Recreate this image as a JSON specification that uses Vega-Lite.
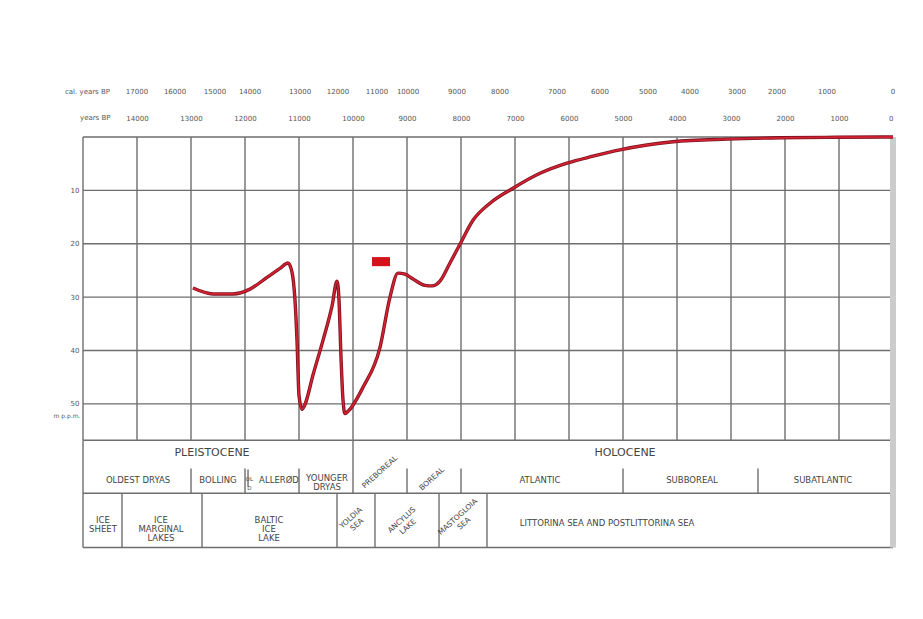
{
  "$schema": "https://vega.github.io/schema/vega-lite/v6.json",
  "width": 810,
  "height": 411,
  "autosize": {"type": "none"},
  "padding": {"left": 83, "top": 137, "right": 30, "bottom": 71},
  "background": "white",
  "config": {
    "view": {"stroke": null},
    "font": "DejaVu Sans",
    "text": {"font": "DejaVu Sans", "lineBreak": "\n"}
  },
  "datasets": {
    "curve": [
      {"yr": 12963, "d": 28.3}, {"yr": 12593, "d": 29.4}, {"yr": 12222, "d": 29.4},
      {"yr": 11907, "d": 28.5}, {"yr": 11593, "d": 26.3}, {"yr": 11352, "d": 24.6},
      {"yr": 11204, "d": 23.6}, {"yr": 11130, "d": 25.3}, {"yr": 11074, "d": 30.6},
      {"yr": 11037, "d": 38.1}, {"yr": 11000, "d": 48.4}, {"yr": 10944, "d": 51.0},
      {"yr": 10889, "d": 50.1}, {"yr": 10741, "d": 44.6}, {"yr": 10556, "d": 38.1},
      {"yr": 10389, "d": 31.7}, {"yr": 10296, "d": 27.0}, {"yr": 10259, "d": 30.6},
      {"yr": 10222, "d": 41.3}, {"yr": 10185, "d": 49.3}, {"yr": 10148, "d": 51.8},
      {"yr": 10074, "d": 51.2}, {"yr": 9815, "d": 46.9}, {"yr": 9500, "d": 39.4},
      {"yr": 9315, "d": 30.0}, {"yr": 9167, "d": 25.5}, {"yr": 9037, "d": 25.7},
      {"yr": 8889, "d": 26.6}, {"yr": 8667, "d": 27.8}, {"yr": 8537, "d": 27.9},
      {"yr": 8389, "d": 27.0}, {"yr": 8204, "d": 23.6}, {"yr": 8019, "d": 20.1},
      {"yr": 7778, "d": 15.6}, {"yr": 7463, "d": 12.4}, {"yr": 7037, "d": 9.6},
      {"yr": 6537, "d": 6.8}, {"yr": 6037, "d": 4.9}, {"yr": 5556, "d": 3.6},
      {"yr": 5056, "d": 2.4}, {"yr": 4556, "d": 1.5}, {"yr": 4074, "d": 0.9},
      {"yr": 3074, "d": 0.4}, {"yr": 2093, "d": 0.15}, {"yr": 1037, "d": 0.05},
      {"yr": 0, "d": 0}
    ],
    "grid_v": [
      {"yr": 15000}, {"yr": 14000}, {"yr": 13000}, {"yr": 12000}, {"yr": 11000},
      {"yr": 10000}, {"yr": 9000}, {"yr": 8000}, {"yr": 7000}, {"yr": 6000},
      {"yr": 5000}, {"yr": 4000}, {"yr": 3000}, {"yr": 2000}, {"yr": 1000}
    ],
    "grid_h": [
      {"d": 0}, {"d": 10}, {"d": 20}, {"d": 30}, {"d": 40}, {"d": 50}
    ],
    "table_lines": [
      {"yr": 15000, "yr2": 0, "d": 56.8, "d2": 56.8},
      {"yr": 15000, "yr2": 0, "d": 66.75, "d2": 66.75},
      {"yr": 15000, "yr2": 0, "d": 76.9, "d2": 76.9},
      {"yr": 15000, "yr2": 15000, "d": 56.8, "d2": 76.9},
      {"yr": 10000, "yr2": 10000, "d": 56.8, "d2": 66.75},
      {"yr": 13000, "yr2": 13000, "d": 62.1, "d2": 66.75},
      {"yr": 12000, "yr2": 12000, "d": 62.1, "d2": 66.75},
      {"yr": 11944, "yr2": 11944, "d": 62.3, "d2": 65.5},
      {"yr": 11000, "yr2": 11000, "d": 62.1, "d2": 66.75},
      {"yr": 9000, "yr2": 9000, "d": 62.1, "d2": 66.75},
      {"yr": 8000, "yr2": 8000, "d": 62.1, "d2": 66.75},
      {"yr": 5000, "yr2": 5000, "d": 62.1, "d2": 66.75},
      {"yr": 2500, "yr2": 2500, "d": 62.1, "d2": 66.75},
      {"yr": 14278, "yr2": 14278, "d": 66.75, "d2": 76.9},
      {"yr": 12796, "yr2": 12796, "d": 66.75, "d2": 76.9},
      {"yr": 10296, "yr2": 10296, "d": 66.75, "d2": 76.9},
      {"yr": 9593, "yr2": 9593, "d": 66.75, "d2": 76.9},
      {"yr": 8407, "yr2": 8407, "d": 66.75, "d2": 76.9},
      {"yr": 7519, "yr2": 7519, "d": 66.75, "d2": 76.9}
    ],
    "edge": [{"yr": 0, "d": 0, "d2": 76.9}],
    "marker": [{"yr": 9648, "yr2": 9315, "d": 22.5, "d2": 24.2}],
    "cal": [
      {"yr": 14000, "label": "17000"}, {"yr": 13296, "label": "16000"},
      {"yr": 12556, "label": "15000"}, {"yr": 11907, "label": "14000"},
      {"yr": 10981, "label": "13000"}, {"yr": 10278, "label": "12000"},
      {"yr": 9556, "label": "11000"}, {"yr": 8981, "label": "10000"},
      {"yr": 8074, "label": "9000"}, {"yr": 7278, "label": "8000"},
      {"yr": 6222, "label": "7000"}, {"yr": 5426, "label": "6000"},
      {"yr": 4537, "label": "5000"}, {"yr": 3759, "label": "4000"},
      {"yr": 2889, "label": "3000"}, {"yr": 2148, "label": "2000"},
      {"yr": 1222, "label": "1000"}, {"yr": 0, "label": "0"}
    ],
    "cal_title": [{"yr": 14500, "label": "cal. years BP"}],
    "epochs": [
      {"yr": 12611, "d": 59.25, "label": "PLEISTOCENE"},
      {"yr": 4963, "d": 59.25, "label": "HOLOCENE"}
    ],
    "stages": [
      {"yr": 13981, "d": 64.3, "label": "OLDEST DRYAS"},
      {"yr": 12500, "d": 64.3, "label": "BOLLING"},
      {"yr": 11370, "d": 64.3, "label": "ALLERØD"},
      {"yr": 10481, "d": 63.9, "label": "YOUNGER\nDRYAS"},
      {"yr": 6537, "d": 64.3, "label": "ATLANTIC"},
      {"yr": 3722, "d": 64.3, "label": "SUBBOREAL"},
      {"yr": 1296, "d": 64.3, "label": "SUBATLANTIC"},
      {"yr": 14630, "d": 71.8, "label": "ICE\nSHEET"},
      {"yr": 13556, "d": 71.8, "label": "ICE\nMARGINAL\nLAKES"},
      {"yr": 11556, "d": 71.8, "label": "BALTIC\nICE\nLAKE"},
      {"yr": 5296, "d": 72.4, "label": "LITTORINA SEA AND POSTLITTORINA SEA"}
    ],
    "stages_small": [
      {"yr": 11920, "d": 64.0, "label": "OL\nD"}
    ],
    "stages_rot": [
      {"yr": 9500, "d": 62.8, "label": "PREBOREAL"},
      {"yr": 8537, "d": 64.1, "label": "BOREAL"},
      {"yr": 10037, "d": 71.4, "label": "YOLDIA\nSEA"},
      {"yr": 9093, "d": 71.8, "label": "ANCYLUS\nLAKE"},
      {"yr": 8056, "d": 71.2, "label": "MASTOGLOIA\nSEA"}
    ]
  },
  "layer": [
    {
      "data": {"name": "grid_v"},
      "mark": {"type": "rule", "stroke": "#6e6e6e", "strokeWidth": 1.4},
      "encoding": {
        "x": {
          "field": "yr", "type": "quantitative",
          "scale": {"domain": [0, 15000], "reverse": true, "nice": false, "zero": false},
          "axis": {
            "orient": "top",
            "values": [14000, 13000, 12000, 11000, 10000, 9000, 8000, 7000, 6000, 5000, 4000, 3000, 2000, 1000, 0],
            "format": "d",
            "labelFont": "DejaVu Sans", "labelFontSize": 7, "labelColor": "#555555",
            "tickSize": 0, "domain": false, "grid": false, "labelPadding": 16,
            "title": "years BP", "titleFont": "DejaVu Sans", "titleFontSize": 7,
            "titleFontWeight": "normal", "titleColor": "#555555",
            "titleAlign": "right", "titleBaseline": "middle", "titleAngle": 0,
            "titleX": 27, "titleY": -20
          }
        },
        "y": {
          "datum": 0, "type": "quantitative",
          "scale": {"domain": [0, 77], "reverse": true, "nice": false, "zero": false},
          "axis": {
            "values": [10, 20, 30, 40, 50],
            "labelFont": "DejaVu Sans", "labelFontSize": 7, "labelColor": "#555555",
            "tickSize": 0, "domain": false, "grid": false, "labelPadding": 4,
            "title": "m p.p.m.", "titleFont": "DejaVu Sans", "titleFontSize": 6,
            "titleFontWeight": "normal", "titleColor": "#555555",
            "titleAlign": "right", "titleBaseline": "middle", "titleAngle": 0,
            "titleX": -3, "titleY": 278
          }
        },
        "y2": {"datum": 56.8}
      }
    },
    {
      "data": {"name": "grid_h"},
      "mark": {"type": "rule", "stroke": "#6e6e6e", "strokeWidth": 1.4},
      "encoding": {
        "y": {"field": "d", "type": "quantitative", "scale": {"domain": [0, 77], "reverse": true, "nice": false, "zero": false}},
        "x": {"datum": 15000, "type": "quantitative", "scale": {"domain": [0, 15000], "reverse": true, "nice": false, "zero": false}},
        "x2": {"datum": 0}
      }
    },
    {
      "data": {"name": "table_lines"},
      "mark": {"type": "rule", "stroke": "#6e6e6e", "strokeWidth": 1.4},
      "encoding": {
        "x": {"field": "yr", "type": "quantitative", "scale": {"domain": [0, 15000], "reverse": true, "nice": false, "zero": false}},
        "x2": {"field": "yr2"},
        "y": {"field": "d", "type": "quantitative", "scale": {"domain": [0, 77], "reverse": true, "nice": false, "zero": false}},
        "y2": {"field": "d2"}
      }
    },
    {
      "data": {"name": "edge"},
      "mark": {"type": "rule", "stroke": "#cccccc", "strokeWidth": 6},
      "encoding": {
        "x": {"field": "yr", "type": "quantitative", "scale": {"domain": [0, 15000], "reverse": true, "nice": false, "zero": false}},
        "y": {"field": "d", "type": "quantitative", "scale": {"domain": [0, 77], "reverse": true, "nice": false, "zero": false}},
        "y2": {"field": "d2"}
      }
    },
    {
      "data": {"name": "curve"},
      "mark": {"type": "line", "interpolate": "monotone", "stroke": "#7a1420", "strokeWidth": 3.4},
      "encoding": {
        "x": {"field": "yr", "type": "quantitative", "scale": {"domain": [0, 15000], "reverse": true, "nice": false, "zero": false}},
        "y": {"field": "d", "type": "quantitative", "scale": {"domain": [0, 77], "reverse": true, "nice": false, "zero": false}}
      }
    },
    {
      "data": {"name": "curve"},
      "mark": {"type": "line", "interpolate": "monotone", "stroke": "#d42030", "strokeWidth": 1.8},
      "encoding": {
        "x": {"field": "yr", "type": "quantitative", "scale": {"domain": [0, 15000], "reverse": true, "nice": false, "zero": false}},
        "y": {"field": "d", "type": "quantitative", "scale": {"domain": [0, 77], "reverse": true, "nice": false, "zero": false}}
      }
    },
    {
      "data": {"name": "marker"},
      "mark": {"type": "rect", "fill": "#d4121c"},
      "encoding": {
        "x": {"field": "yr", "type": "quantitative", "scale": {"domain": [0, 15000], "reverse": true, "nice": false, "zero": false}},
        "x2": {"field": "yr2"},
        "y": {"field": "d", "type": "quantitative", "scale": {"domain": [0, 77], "reverse": true, "nice": false, "zero": false}},
        "y2": {"field": "d2"}
      }
    },
    {
      "data": {"name": "cal"},
      "mark": {"type": "text", "fontSize": 7, "fill": "#555555", "align": "center", "baseline": "middle"},
      "encoding": {
        "x": {"field": "yr", "type": "quantitative", "scale": {"domain": [0, 15000], "reverse": true, "nice": false, "zero": false}},
        "y": {"datum": -8.5, "type": "quantitative", "scale": {"domain": [0, 77], "reverse": true, "nice": false, "zero": false}},
        "text": {"field": "label"}
      }
    },
    {
      "data": {"name": "cal_title"},
      "mark": {"type": "text", "fontSize": 7, "fill": "#555555", "align": "right", "baseline": "middle"},
      "encoding": {
        "x": {"field": "yr", "type": "quantitative", "scale": {"domain": [0, 15000], "reverse": true, "nice": false, "zero": false}},
        "y": {"datum": -8.5, "type": "quantitative", "scale": {"domain": [0, 77], "reverse": true, "nice": false, "zero": false}},
        "text": {"field": "label"}
      }
    },
    {
      "data": {"name": "epochs"},
      "mark": {"type": "text", "fontSize": 11, "fill": "#444444", "align": "center", "baseline": "middle"},
      "encoding": {
        "x": {"field": "yr", "type": "quantitative", "scale": {"domain": [0, 15000], "reverse": true, "nice": false, "zero": false}},
        "y": {"field": "d", "type": "quantitative", "scale": {"domain": [0, 77], "reverse": true, "nice": false, "zero": false}},
        "text": {"field": "label"}
      }
    },
    {
      "data": {"name": "stages"},
      "mark": {"type": "text", "fontSize": 8.5, "lineHeight": 9, "fill": "#444444", "align": "center", "baseline": "middle"},
      "encoding": {
        "x": {"field": "yr", "type": "quantitative", "scale": {"domain": [0, 15000], "reverse": true, "nice": false, "zero": false}},
        "y": {"field": "d", "type": "quantitative", "scale": {"domain": [0, 77], "reverse": true, "nice": false, "zero": false}},
        "text": {"field": "label"}
      }
    },
    {
      "data": {"name": "stages_small"},
      "mark": {"type": "text", "fontSize": 5.5, "lineHeight": 9, "fill": "#444444", "align": "center", "baseline": "middle"},
      "encoding": {
        "x": {"field": "yr", "type": "quantitative", "scale": {"domain": [0, 15000], "reverse": true, "nice": false, "zero": false}},
        "y": {"field": "d", "type": "quantitative", "scale": {"domain": [0, 77], "reverse": true, "nice": false, "zero": false}},
        "text": {"field": "label"}
      }
    },
    {
      "data": {"name": "stages_rot"},
      "mark": {"type": "text", "fontSize": 7.5, "lineHeight": 9, "angle": -42, "fill": "#444444", "align": "center", "baseline": "middle"},
      "encoding": {
        "x": {"field": "yr", "type": "quantitative", "scale": {"domain": [0, 15000], "reverse": true, "nice": false, "zero": false}},
        "y": {"field": "d", "type": "quantitative", "scale": {"domain": [0, 77], "reverse": true, "nice": false, "zero": false}},
        "text": {"field": "label"}
      }
    }
  ]
}
